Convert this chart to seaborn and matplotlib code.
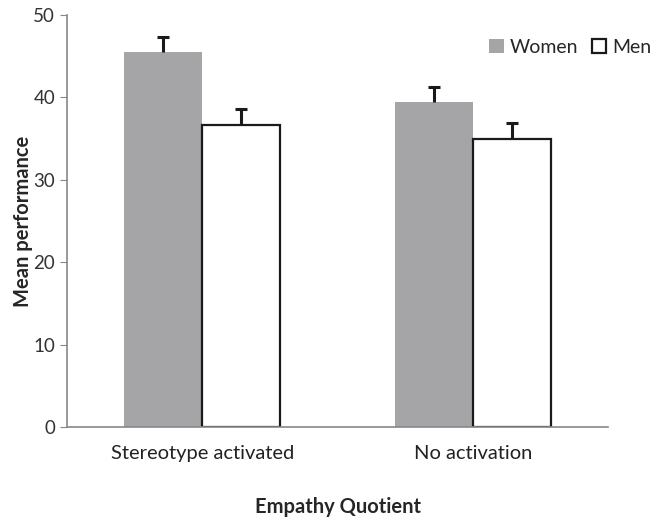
import seaborn as sns
import pandas as pd
import matplotlib
import matplotlib.pyplot as plt
from matplotlib.patches import Patch

matplotlib.use("agg")

conditions = ["Stereotype activated", "No activation"]
groups = ["Women", "Men"]
women_means = [45.5, 39.4]
men_means = [36.6, 35.0]
women_err = [1.8, 1.9]
men_err = [2.0, 1.9]

df = pd.DataFrame({
    "condition": conditions * 2,
    "group": ["Women"] * 2 + ["Men"] * 2,
    "mean": women_means + men_means,
})
errs = {"Women": women_err, "Men": men_err}
colors = {"Women": "#a5a5a8", "Men": "white"}

sns.set_style("white")
plt.rcParams["font.family"] = ["Lato", "DejaVu Sans"]

fig, ax = plt.subplots(figsize=(6.56, 5.19), dpi=100)
sns.barplot(
    data=df, x="condition", y="mean", hue="group", hue_order=groups,
    order=conditions, palette=colors,
    width=0.575, gap=0, errorbar=None, legend=False, ax=ax,
)

# upper-only error bars on top of each bar
for cont, g in zip(ax.containers, groups):
    for patch, e in zip(cont.patches, errs[g]):
        if g == "Men":
            patch.set_edgecolor("#1a1a1a")
            patch.set_linewidth(1.6)
        else:
            patch.set_edgecolor("none")
        cx = patch.get_x() + patch.get_width() / 2
        top = patch.get_height()
        eb = ax.errorbar(cx, top, yerr=[[0], [e]], fmt="none", ecolor="#1a1a1a",
                         elinewidth=2.2, capsize=4, capthick=2.2)
        eb[1][0].set_visible(False)

ax.set_ylim(0, 50)
ax.set_xlim(-0.5, 1.5)
ax.set_yticks(range(0, 51, 10))
ax.tick_params(axis="y", direction="out", length=5, color="#888888",
               labelsize=13.5, labelcolor="#333333", left=True)
ax.tick_params(axis="x", length=0, labelsize=14.5, labelcolor="#222222", pad=13)
for s in ["top", "right"]:
    ax.spines[s].set_visible(False)
for s in ["left", "bottom"]:
    ax.spines[s].set_color("#888888")
    ax.spines[s].set_linewidth(1.2)

ax.set_ylabel("Mean performance", fontsize=14.5, fontweight="bold", labelpad=0)
ax.set_xlabel("Empathy Quotient", fontsize=14.5, fontweight="bold", labelpad=25)

handles = [
    Patch(facecolor=colors["Women"], edgecolor="none"),
    Patch(facecolor=colors["Men"], edgecolor="#1a1a1a", linewidth=1.6),
]
ax.legend(handles, groups, loc="upper right", ncol=2, frameon=False,
          fontsize=14, handlelength=0.75, handleheight=0.75, handletextpad=0.3,
          columnspacing=0.7, bbox_to_anchor=(1.112, 0.985))

fig.subplots_adjust(left=0.102, right=0.927, top=0.971, bottom=0.177)
fig.savefig("out.png", dpi=100)
